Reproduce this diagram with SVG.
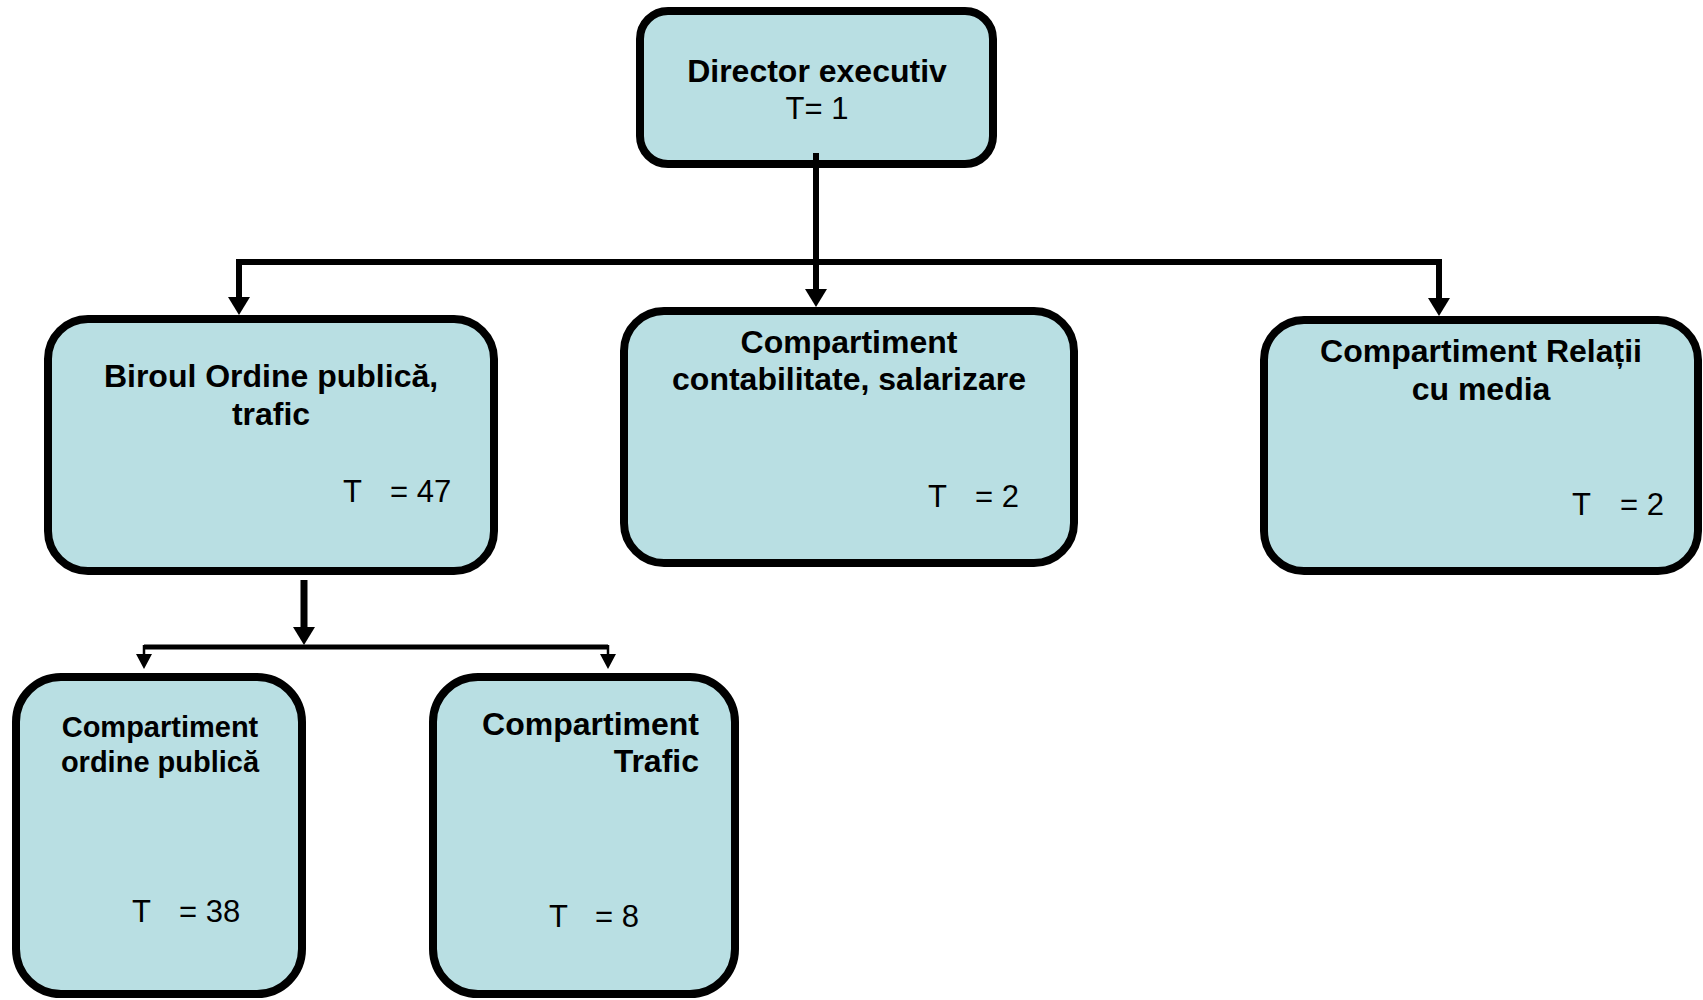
<svg xmlns="http://www.w3.org/2000/svg" width="1703" height="1000" viewBox="0 0 1703 1000">
<style>
.box{fill:#B9DFE3;stroke:#000;stroke-width:8}
.t{font-family:"Liberation Sans",Arial,sans-serif;fill:#000}
.b{font-weight:bold}
.c{text-anchor:middle}
.conn{fill:none;stroke:#000;stroke-linejoin:miter;stroke-linecap:butt}
</style>
<defs>
<marker id="big" markerUnits="userSpaceOnUse" viewBox="0 -12 20 24" refX="1" refY="0" markerWidth="20" markerHeight="24" orient="auto-start-reverse">
<path d="M0,-11 L18,0 L0,11 z" fill="#000"/>
</marker>
<marker id="small" markerUnits="userSpaceOnUse" viewBox="0 -9 17 18" refX="1" refY="0" markerWidth="17" markerHeight="18" orient="auto">
<path d="M0,-8 L15,0 L0,8 z" fill="#000"/>
</marker>
</defs>
<g id="director">
<rect class="box" x="640" y="11" width="353" height="153" rx="28"/>
<text class="t b c" x="817" y="82" font-size="32">Director executiv</text>
<text class="t c" x="817" y="119" font-size="31">T= 1</text>
</g>
<g id="biroul">
<rect class="box" x="48" y="319" width="446" height="252" rx="40"/>
<text class="t b c" x="271" y="387" font-size="32">Biroul Ordine publică,</text>
<text class="t b c" x="271" y="425" font-size="32">trafic</text>
<text class="t" y="502" font-size="31"><tspan x="343">T</tspan><tspan x="390">= 47</tspan></text>
</g>
<g id="contabilitate">
<rect class="box" x="624" y="311" width="450" height="252" rx="40"/>
<text class="t b c" x="849" y="353" font-size="32">Compartiment</text>
<text class="t b c" x="849" y="390" font-size="32">contabilitate, salarizare</text>
<text class="t" y="507" font-size="31"><tspan x="928">T</tspan><tspan x="975">= 2</tspan></text>
</g>
<g id="relatii">
<rect class="box" x="1264" y="320" width="434" height="251" rx="40"/>
<text class="t b c" x="1481" y="362" font-size="32">Compartiment Relații</text>
<text class="t b c" x="1481" y="400" font-size="32">cu media</text>
<text class="t" y="515" font-size="31"><tspan x="1572">T</tspan><tspan x="1620">= 2</tspan></text>
</g>
<g id="ordine">
<rect class="box" x="16" y="677" width="286" height="317" rx="45"/>
<text class="t b c" x="160" y="737" font-size="29">Compartiment</text>
<text class="t b c" x="160" y="772" font-size="29">ordine publică</text>
<text class="t" y="922" font-size="31"><tspan x="132">T</tspan><tspan x="179">= 38</tspan></text>
</g>
<g id="trafic">
<rect class="box" x="433" y="677" width="302" height="317" rx="45"/>
<text class="t b" x="699" y="735" font-size="32" text-anchor="end">Compartiment</text>
<text class="t b" x="699" y="772" font-size="32" text-anchor="end">Trafic</text>
<text class="t" y="927" font-size="31"><tspan x="549">T</tspan><tspan x="595">= 8</tspan></text>
</g>
<g id="connectors">
<path class="conn" stroke-width="6" d="M816,153 L816,290" marker-end="url(#big)"/>
<path class="conn" stroke-width="6" d="M239,298 L239,262 L1439,262 L1439,299" marker-start="url(#big)" marker-end="url(#big)"/>
<path class="conn" stroke-width="7" d="M304,580 L304,628" marker-end="url(#big)"/>
<path class="conn" stroke-width="5" d="M144,647 L608,647"/>
<path class="conn" stroke-width="2.5" d="M144,645 L144,655" marker-end="url(#small)"/>
<path class="conn" stroke-width="2.5" d="M608,645 L608,655" marker-end="url(#small)"/>
</g>
</svg>
